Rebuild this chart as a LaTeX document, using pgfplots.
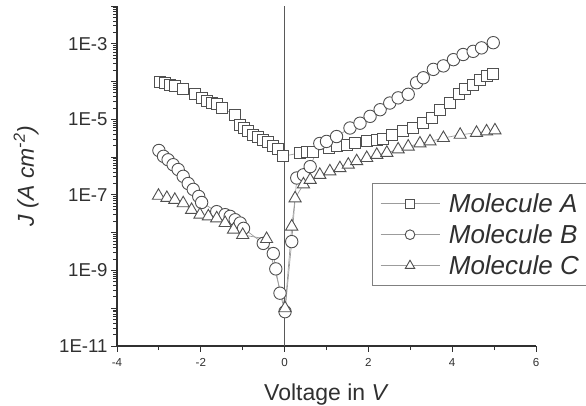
\documentclass[border=0pt]{standalone}
\usepackage{fontspec}
\setmainfont{Liberation Sans}
\usepackage{pgfplots}
\pgfplotsset{compat=1.18}
\definecolor{mk}{HTML}{505050}
\definecolor{ln}{HTML}{9C9C9C}
\definecolor{ax}{HTML}{303030}

\begin{document}
\begin{tikzpicture}[x=1pt,y=1pt]
\path[use as bounding box] (0,0) rectangle (586,406);
\begin{axis}[
    at={(117pt,60pt)}, anchor=south west,
    scale only axis, width=419pt, height=340pt,
    xmin=-4, xmax=6,
    ymode=log, ymin=1e-11, ymax=1e-2,
    axis x line*=bottom, axis y line*=left,
    axis line style={ax, line width=1.3pt},
    tick style={ax, line width=1pt},
    tick align=outside,
    major tick length=6pt, minor tick length=4pt,
    xtick={-4,-2,0,2,4,6},
    xticklabels={-4,-2,0,2,4,6},
    minor x tick num=1,
    ytick={1e-11,1e-10,1e-9,1e-8,1e-7,1e-6,1e-5,1e-4,1e-3,1e-2},
    yticklabels={1E-11,,1E-9,,1E-7,,1E-5,,1E-3,},
    minor ytick={2e-11,3e-11,4e-11,5e-11,6e-11,7e-11,8e-11,9e-11,
                 2e-10,3e-10,4e-10,5e-10,6e-10,7e-10,8e-10,9e-10,
                 2e-9,3e-9,4e-9,5e-9,6e-9,7e-9,8e-9,9e-9,
                 2e-8,3e-8,4e-8,5e-8,6e-8,7e-8,8e-8,9e-8,
                 2e-7,3e-7,4e-7,5e-7,6e-7,7e-7,8e-7,9e-7,
                 2e-6,3e-6,4e-6,5e-6,6e-6,7e-6,8e-6,9e-6,
                 2e-5,3e-5,4e-5,5e-5,6e-5,7e-5,8e-5,9e-5,
                 2e-4,3e-4,4e-4,5e-4,6e-4,7e-4,8e-4,9e-4,
                 2e-3,3e-3,4e-3,5e-3,6e-3,7e-3,8e-3,9e-3},
    minor tick style={ax, line width=0.9pt},
    /pgf/number format/assume math mode=true,
    xticklabel style={font=\fontsize{11.6}{13}\selectfont, text=ax, yshift=-3pt},
    yticklabel style={font=\fontsize{18.6}{21}\selectfont, text=ax},
    xlabel={Voltage in \textit{V}},
    ylabel={\textit{J (A cm\textsuperscript{-2})}},
    xlabel style={font=\fontsize{23}{26}\selectfont, text=ax, at={(axis description cs:0.5,-0.159)}, anchor=base},
    ylabel style={font=\fontsize{23}{26}\selectfont, text=ax, at={(axis description cs:-0.217,0.5)}, anchor=center},
    extra x ticks={0}, extra x tick labels={},
    extra x tick style={grid=major, major grid style={draw=gray!70!black, line width=0.8pt}, major tick length=0pt},
    legend style={at={(0.608,0.4785)}, anchor=north west, draw=gray, line width=0.8pt,
        font=\fontsize{26}{29}\selectfont\itshape, text=ax,
        inner xsep=8pt, inner ysep=4.5pt, row sep=0pt,
        nodes={inner sep=1pt, text height=22.9pt, text depth=6.1pt},
        /tikz/every odd column/.append style={column sep=8pt}},
    legend cell align=left,
    legend image code/.code={\draw[#1, mark repeat=2, mark phase=2,
        mark options={draw=mk, fill=white, line width=0.9pt, solid, scale=0.78}]
        plot coordinates {(0pt,0pt) (29.5pt,0pt) (59pt,0pt)};},
    every axis plot/.append style={draw=ln, line width=0.7pt,
        mark options={draw=mk, fill=white, line width=0.9pt, solid}},
]
% Molecule A
\addplot[mark=square*, mark size=5.5pt] coordinates {
(-2.97,1.0e-4) (-2.85,9.3e-5) (-2.73,8.3e-5) (-2.62,7.6e-5) (-2.42,6.5e-5)
(-2.14,4.6e-5) (-1.98,3.7e-5) (-1.86,3.0e-5) (-1.74,2.7e-5) (-1.62,2.5e-5)
(-1.50,2.0e-5) (-1.18,1.3e-5) (-1.06,7.2e-6) (-0.98,5.9e-6) (-0.87,4.8e-6)
(-0.75,3.9e-6) (-0.63,3.4e-6) (-0.51,2.9e-6) (-0.39,2.5e-6) (-0.27,2.0e-6)
(-0.15,1.6e-6) (-0.03,1.05e-6)
(0.37,1.3e-6) (0.53,1.4e-6) (0.68,1.4e-6) (1.05,1.8e-6) (1.25,2.0e-6)
(1.48,2.1e-6) (1.68,2.3e-6) (1.96,2.6e-6) (2.20,2.9e-6) (2.35,3.0e-6)
(2.56,3.9e-6) (2.83,4.8e-6) (3.07,5.9e-6) (3.31,7.9e-6) (3.51,1.1e-5)
(3.71,1.8e-5) (3.95,2.7e-5) (4.15,4.6e-5) (4.31,6.2e-5) (4.50,8.3e-5)
(4.66,1.1e-4) (4.82,1.4e-4) (4.98,1.6e-4)
};
\addlegendentry{Molecule A}
% Molecule B
\addplot[mark=*, mark size=6.2pt] coordinates {
(-3.00,1.5e-6) (-2.89,1.05e-6) (-2.78,8.5e-7) (-2.66,6.3e-7) (-2.54,4.7e-7)
(-2.42,3.1e-7) (-2.30,2.0e-7) (-2.18,1.4e-7) (-2.05,9.1e-8) (-1.98,6.3e-8)
(-1.62,3.6e-8) (-1.42,3.0e-8) (-1.30,2.7e-8) (-1.18,2.2e-8) (-1.06,1.8e-8)
(-0.98,1.3e-8) (-0.51,5.2e-9) (-0.27,2.8e-9) (-0.21,1.1e-9) (-0.11,2.5e-10)
(0.01,8.1e-11) (0.17,5.8e-9) (0.29,2.8e-7) (0.45,3.4e-7) (0.61,5.6e-7)
(0.84,2.3e-6) (1.00,2.6e-6) (1.24,3.5e-6) (1.56,5.9e-6) (1.80,7.9e-6)
(2.04,1.2e-5) (2.28,1.8e-5) (2.51,2.7e-5) (2.71,3.7e-5) (2.95,4.6e-5)
(3.15,9.3e-5) (3.31,1.26e-4) (3.55,2.1e-4) (3.79,2.6e-4) (4.03,3.8e-4)
(4.26,5.2e-4) (4.50,6.3e-4) (4.70,7.8e-4) (4.98,1.07e-3)
};
\addlegendentry{Molecule B}
% Molecule C
\addplot[mark=triangle*, mark size=7pt] coordinates {
(-3.01,9.5e-8) (-2.81,8.3e-8) (-2.62,7.4e-8) (-2.42,6.0e-8) (-2.22,4.0e-8)
(-2.02,3.0e-8) (-1.82,2.7e-8) (-1.62,2.4e-8) (-1.42,1.8e-8) (-1.22,1.2e-8)
(-1.00,8.7e-9) (-0.43,6.8e-9) (0.01,1.0e-10) (0.17,1.45e-8) (0.25,8.1e-8)
(0.45,1.9e-7) (0.61,2.5e-7) (0.84,3.4e-7) (1.08,4.2e-7) (1.32,5.1e-7)
(1.52,6.3e-7) (1.72,7.8e-7) (1.96,9.5e-7) (2.20,1.15e-6) (2.44,1.3e-6)
(2.71,1.6e-6) (2.95,1.9e-6) (3.23,2.3e-6) (3.47,2.6e-6) (3.79,3.2e-6)
(4.19,3.9e-6) (4.58,4.4e-6) (4.82,4.8e-6) (5.02,5.1e-6)
};
\addlegendentry{Molecule C}
\end{axis}
\end{tikzpicture}
\end{document}
